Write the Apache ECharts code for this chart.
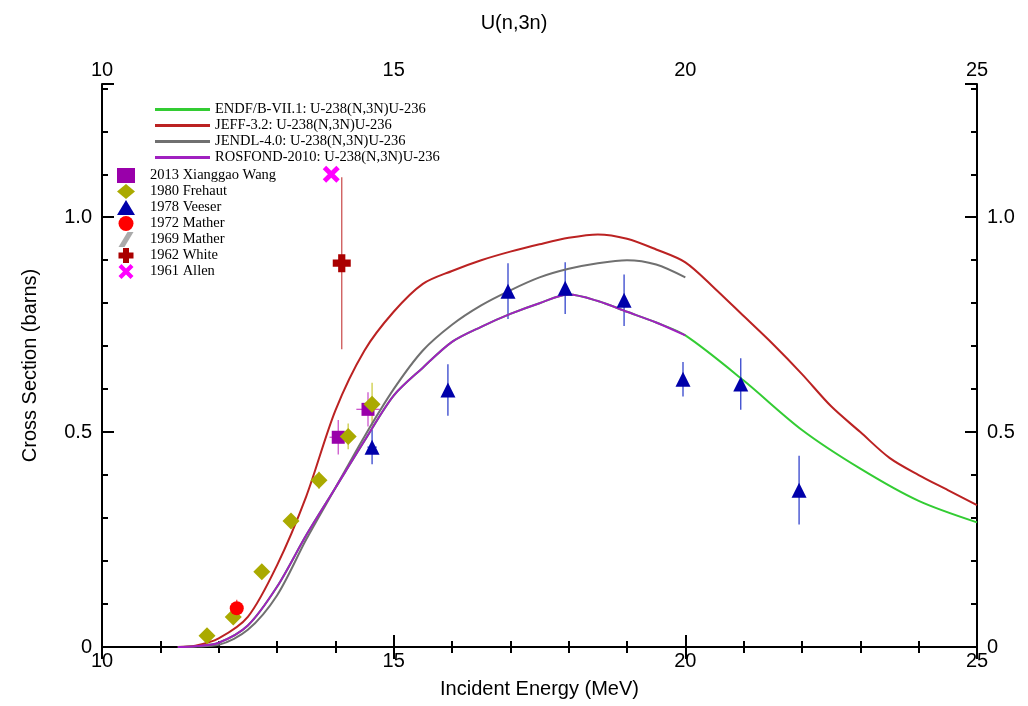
<!DOCTYPE html>
<html><head><meta charset="utf-8">
<script src="https://cdn.jsdelivr.net/npm/echarts@6/dist/echarts.min.js"></script>
<style>html,body{margin:0;background:#fff}#c{width:1028px;height:706px}</style>
</head><body><div id="c"></div>
<script>
// evaluated curves [E, sigma]
var endf = [[11.3,0],[11.6,0.002],[12,0.01],[12.5,0.05],[13,0.14],[13.5,0.26],[14,0.37],[14.5,0.48],[15,0.585],[15.5,0.65],[16,0.71],[16.5,0.745],[17,0.775],[17.5,0.80],[18,0.82],[18.5,0.805],[19,0.78],[19.5,0.755],[20,0.725],[21,0.62],[22,0.505],[23,0.415],[24,0.34],[25,0.29]];
var jeff = [[11.3,0],[11.6,0.003],[12,0.02],[12.5,0.07],[13,0.19],[13.5,0.35],[14,0.55],[14.5,0.69],[15,0.78],[15.5,0.845],[16,0.875],[16.5,0.9],[17,0.92],[17.5,0.937],[18,0.952],[18.5,0.96],[19,0.95],[19.5,0.925],[20,0.895],[20.5,0.835],[21,0.77],[21.5,0.705],[22,0.635],[22.5,0.56],[23,0.5],[23.5,0.44],[24,0.4],[24.5,0.365],[25,0.33]];
var jendl = [[11.3,0],[11.6,0.001],[12,0.005],[12.5,0.04],[13,0.12],[13.5,0.25],[14,0.37],[14.5,0.49],[15,0.6],[15.5,0.69],[16,0.75],[16.5,0.795],[17,0.83],[17.5,0.86],[18,0.88],[18.5,0.893],[19,0.9],[19.5,0.89],[20,0.86]];
var rosfond = [[11.3,0],[11.6,0.002],[12,0.01],[12.5,0.05],[13,0.14],[13.5,0.26],[14,0.37],[14.5,0.48],[15,0.585],[15.5,0.65],[16,0.71],[16.5,0.745],[17,0.775],[17.5,0.80],[18,0.82],[18.5,0.805],[19,0.78],[19.5,0.755],[20,0.725]];
// experiments [E, sigma, dSigma, dE]
var wang = [[14.05,0.488,0.04,0.15],[14.56,0.553,0.04,0.2]];
var frehaut = [[11.8,0.026,0.005,0],[12.25,0.07,0.008,0],[12.74,0.175,0.01,0],[13.24,0.293,0.012,0],[13.72,0.388,0.02,0],[14.22,0.49,0.03,0],[14.63,0.565,0.05,0]];
var veeser = [[14.63,0.465,0.04,0.08],[15.93,0.598,0.06,0],[16.96,0.828,0.065,0],[17.94,0.835,0.06,0],[18.95,0.807,0.06,0],[19.96,0.623,0.04,0],[20.95,0.612,0.06,0],[21.95,0.365,0.08,0]];
var mather72 = [[12.31,0.09,0.02,0]];
var mather69 = [];
var white = [[14.11,0.893,0.2,0]];
var allen = [[13.93,1.10,0,0]];

var plusPath = 'path://M3,0H7V3H10V7H7V10H3V7H0V3H3Z';
var xPath = 'path://M0,2L2,0L5,3L8,0L10,2L7,5L10,8L8,10L5,7L2,10L0,8L3,5Z';

function lineSeries(name, data, color) {
  return {name: name, type: 'line', data: data, symbol: 'none', smooth: 0.3,
    lineStyle: {color: color, width: 2}, itemStyle: {color: color}, z: 3};
}
function errSeries(name, data, color) {
  return {name: name + ' err', type: 'custom', data: data, silent: true, z: 2,
    renderItem: function (params, api) {
      var x = api.value(0), y = api.value(1), dy = api.value(2), dx = api.value(3);
      var ch = [];
      if (dy > 0) {
        var a = api.coord([x, y - dy]), b = api.coord([x, y + dy]);
        ch.push({type: 'line', shape: {x1: a[0], y1: a[1], x2: b[0], y2: b[1]}, style: {stroke: color, lineWidth: 1.3}});
      }
      if (dx > 0) {
        var c = api.coord([x - dx, y]), d = api.coord([x + dx, y]);
        ch.push({type: 'line', shape: {x1: c[0], y1: c[1], x2: d[0], y2: d[1]}, style: {stroke: color, lineWidth: 1.3}});
      }
      return {type: 'group', children: ch};
    }};
}
function ptSeries(name, data, color, symbol, size) {
  return {name: name, type: 'scatter', data: data.map(function (d) { return [d[0], d[1]]; }),
    symbol: symbol, symbolSize: size, itemStyle: {color: color, opacity: 1}, z: 4};
}

var lineNames = ['ENDF/B-VII.1: U-238(N,3N)U-236', 'JEFF-3.2: U-238(N,3N)U-236', 'JENDL-4.0: U-238(N,3N)U-236', 'ROSFOND-2010: U-238(N,3N)U-236'];
var ptNames = ['2013 Xianggao Wang', '1980 Frehaut', '1978 Veeser', '1972 Mather', '1969 Mather', '1962 White', '1961 Allen'];

var xAx = {type: 'value', min: 10, max: 25, interval: 5,
  axisLine: {lineStyle: {color: '#000', width: 2}},
  axisTick: {inside: true, length: 12, lineStyle: {color: '#000', width: 2}},
  minorTick: {show: true, splitNumber: 5, length: 6, lineStyle: {color: '#000', width: 2}},
  splitLine: {show: false},
  axisLabel: {color: '#000', fontSize: 20, fontFamily: 'Liberation Sans', margin: 4}};
var yAx = {type: 'value', min: 0, max: 1.31, interval: 0.5,
  axisLine: {show: true, lineStyle: {color: '#000', width: 2}},
  axisTick: {show: true, inside: true, length: 12, lineStyle: {color: '#000', width: 2}},
  minorTick: {show: true, splitNumber: 5, length: 6, lineStyle: {color: '#000', width: 2}},
  splitLine: {show: false},
  axisLabel: {color: '#000', fontSize: 20, fontFamily: 'Liberation Sans', showMaxLabel: false, margin: 10,
    formatter: function (v) { return v === 0 ? '0' : v.toFixed(1); }}};

var chart = echarts.init(document.getElementById('c'));
chart.setOption({
  backgroundColor: '#fff',
  animation: false,
  title: {text: 'U(n,3n)', left: 'center', top: 8, textStyle: {fontSize: 20, fontWeight: 'normal', fontFamily: 'Liberation Sans', color: '#000'}},
  grid: {left: 102, right: 51, top: 84, bottom: 59},
  legend: [
    {data: lineNames.map(function (n) { return {name: n, icon: 'rect'}; }), orient: 'vertical', left: 150, top: 97, itemGap: 1, itemWidth: 55, itemHeight: 3,
      textStyle: {fontFamily: 'Liberation Serif', fontSize: 14.5, color: '#000'}},
    {data: ptNames, orient: 'vertical', left: 112, top: 163, itemGap: 1, itemWidth: 18, itemHeight: 15,
      textStyle: {fontFamily: 'Liberation Serif', fontSize: 14.5, color: '#000', padding: [0, 0, 0, 10]}}
  ],
  xAxis: [
    Object.assign({}, xAx, {position: 'bottom', name: 'Incident Energy (MeV)', nameLocation: 'middle', nameGap: 32,
      nameTextStyle: {fontSize: 20, fontFamily: 'Liberation Sans', color: '#000'}}),
    Object.assign({}, xAx, {position: 'top'})
  ],
  yAxis: [
    Object.assign({}, yAx, {position: 'left', name: 'Cross Section (barns)', nameLocation: 'middle', nameGap: 62,
      nameTextStyle: {fontSize: 20, fontFamily: 'Liberation Sans', color: '#000'}}),
    Object.assign({}, yAx, {position: 'right'})
  ],
  series: [
    lineSeries(lineNames[0], endf, '#33cc33'),
    lineSeries(lineNames[1], jeff, '#bb2222'),
    lineSeries(lineNames[2], jendl, '#707070'),
    lineSeries(lineNames[3], rosfond, '#a020c0'),
    errSeries('wang', wang, '#cc55cc'),
    errSeries('frehaut', frehaut, '#cccc44'),
    errSeries('veeser', veeser, '#3344cc'),
    errSeries('mather72', mather72, '#ff4444'),
    errSeries('white', white, '#cc5555'),
    ptSeries(ptNames[0], wang, '#9900aa', 'rect', 13),
    ptSeries(ptNames[1], frehaut, '#aaaa00', 'diamond', 17),
    ptSeries(ptNames[2], veeser, '#0000aa', 'triangle', 15),
    ptSeries(ptNames[3], mather72, '#ff0000', 'circle', 14),
    ptSeries(ptNames[4], mather69, '#aaaaaa', 'path://M0,10L6,0H10L4,10Z', 14),
    ptSeries(ptNames[5], white, '#aa0000', plusPath, 18),
    ptSeries(ptNames[6], allen, '#ff00ff', xPath, 17)
  ]
});
</script></body></html>
